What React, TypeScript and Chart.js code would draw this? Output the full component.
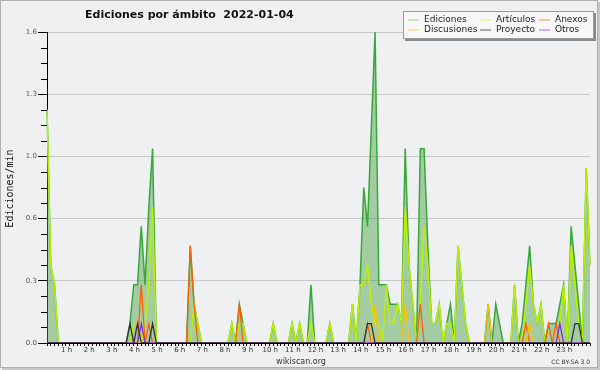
import React, { useEffect, useRef } from 'react';
import { Chart, registerables } from 'chart.js';

Chart.register(...registerables);

const TITLE = 'Ediciones por ámbito  2022-01-04';
const Y_TITLE = 'Ediciones/min';
const FOOTER = 'wikiscan.org';
const LICENSE = 'CC BY-SA 3.0';

// hour tick labels (one every 6 ten-minute slots)
const HOUR_LABELS = ['', '1 h', '2 h', '3 h', '4 h', '5 h', '6 h', '7 h', '8 h', '9 h', '10 h', '11 h', '12 h',
  '13 h', '14 h', '15 h', '16 h', '17 h', '18 h', '19 h', '20 h', '21 h', '22 h', '23 h', ''];
// y axis: minor step 0.08, label every 4th tick
const Y_LABELS = ['0.0', '0.3', '0.6', '1.0', '1.3', '1.6'];
const Y_MAX = 1.6;
const Y_STEP = 0.08;

// ten-minute slots 00:00 .. 24:00
const SLOTS: string[] = [];
for (let h = 0; h <= 24; h++) {
  for (let m = 0; m < 60; m += 10) {
    if (h === 24 && m > 0) break;
    SLOTS.push(`${String(h).padStart(2, '0')}:${String(m).padStart(2, '0')}`);
  }
}

// edits per minute, 10-minute slots
const EDICIONES = [
  1.2, 0.4, 0.3, 0, 0, 0, 0, 0, 0, 0, 0, 0,
  0, 0, 0, 0, 0, 0, 0, 0, 0, 0, 0.1, 0.3,
  0.3, 0.6, 0.3, 0.7, 1.0, 0, 0, 0, 0, 0, 0, 0,
  0, 0, 0.5, 0.2, 0.1, 0, 0, 0, 0, 0, 0, 0,
  0, 0.1, 0, 0.2, 0.1, 0, 0, 0, 0, 0, 0, 0,
  0.1, 0, 0, 0, 0, 0.1, 0, 0.1, 0, 0, 0.3, 0,
  0, 0, 0, 0.1, 0, 0, 0, 0, 0, 0.2, 0, 0.3,
  0.8, 0.6, 1.1, 1.6, 0.3, 0.3, 0.3, 0.2, 0.2, 0.2, 0.1, 1.0,
  0.4, 0.2, 0, 1.0, 1.0, 0.5, 0.1, 0.1, 0.2, 0, 0.1, 0.2,
  0, 0.5, 0.3, 0.1, 0, 0, 0, 0, 0, 0.2, 0, 0.2,
  0.1, 0, 0, 0, 0.3, 0, 0.1, 0.3, 0.5, 0.2, 0.1, 0.2,
  0, 0.1, 0.1, 0.1, 0.2, 0.3, 0, 0.6, 0.4, 0.2, 0, 0.9,
  0.4,
];
const ARTICULOS = [
  1.2, 0.4, 0.3, 0, 0, 0, 0, 0, 0, 0, 0, 0,
  0, 0, 0, 0, 0, 0, 0, 0, 0, 0, 0, 0.1,
  0.1, 0, 0.1, 0.3, 0.7, 0, 0, 0, 0, 0, 0, 0,
  0, 0, 0, 0.2, 0.1, 0, 0, 0, 0, 0, 0, 0,
  0, 0.1, 0, 0.1, 0.1, 0, 0, 0, 0, 0, 0, 0,
  0.1, 0, 0, 0, 0, 0.1, 0, 0.1, 0, 0, 0.1, 0,
  0, 0, 0, 0.1, 0, 0, 0, 0, 0, 0.2, 0, 0.3,
  0.3, 0.4, 0.2, 0.1, 0.1, 0, 0.3, 0.1, 0.1, 0.2, 0.1, 0.7,
  0.4, 0.2, 0, 0.2, 0.6, 0.4, 0.1, 0.1, 0.2, 0, 0.1, 0.1,
  0, 0.5, 0.3, 0.1, 0, 0, 0, 0, 0, 0, 0, 0,
  0, 0, 0, 0, 0.3, 0, 0, 0.2, 0.4, 0.2, 0.1, 0.2,
  0, 0, 0, 0, 0.1, 0.3, 0, 0.5, 0.3, 0.1, 0, 0.9,
  0.4,
];
const ANEXOS = [
  0, 0, 0, 0, 0, 0, 0, 0, 0, 0, 0, 0,
  0, 0, 0, 0, 0, 0, 0, 0, 0, 0, 0, 0,
  0, 0.3, 0, 0.1, 0, 0, 0, 0, 0, 0, 0, 0,
  0, 0, 0.5, 0.2, 0, 0, 0, 0, 0, 0, 0, 0,
  0, 0, 0, 0.2, 0, 0, 0, 0, 0, 0, 0, 0,
  0, 0, 0, 0, 0, 0, 0, 0, 0, 0, 0, 0,
  0, 0, 0, 0, 0, 0, 0, 0, 0, 0, 0, 0,
  0, 0.1, 0, 0, 0, 0, 0, 0, 0, 0, 0, 0,
  0, 0, 0, 0.2, 0, 0, 0, 0, 0, 0, 0, 0,
  0, 0, 0, 0, 0, 0, 0, 0, 0, 0, 0, 0,
  0, 0, 0, 0, 0, 0, 0, 0.1, 0, 0, 0, 0,
  0, 0.1, 0, 0.1, 0, 0, 0, 0, 0, 0, 0, 0,
  0,
];
const DISCUSIONES = [
  0, 0, 0, 0, 0, 0, 0, 0, 0, 0, 0, 0,
  0, 0, 0, 0, 0, 0, 0, 0, 0, 0, 0, 0,
  0, 0, 0, 0, 0, 0, 0, 0, 0, 0, 0, 0,
  0, 0, 0, 0, 0, 0, 0, 0, 0, 0, 0, 0,
  0, 0, 0, 0, 0, 0, 0, 0, 0, 0, 0, 0,
  0, 0, 0, 0, 0, 0, 0, 0, 0, 0, 0, 0,
  0, 0, 0, 0, 0, 0, 0, 0, 0, 0, 0, 0,
  0, 0, 0, 0.2, 0, 0, 0, 0, 0, 0, 0, 0.2,
  0, 0, 0, 0, 0, 0, 0, 0, 0, 0, 0, 0,
  0, 0, 0, 0, 0, 0, 0, 0, 0, 0.2, 0, 0,
  0, 0, 0, 0, 0, 0, 0, 0, 0.1, 0, 0, 0,
  0, 0, 0, 0, 0, 0, 0, 0, 0, 0, 0, 0,
  0,
];
const PROYECTO = [
  0, 0, 0, 0, 0, 0, 0, 0, 0, 0, 0, 0,
  0, 0, 0, 0, 0, 0, 0, 0, 0, 0, 0.1, 0,
  0.1, 0, 0, 0, 0.1, 0, 0, 0, 0, 0, 0, 0,
  0, 0, 0, 0, 0, 0, 0, 0, 0, 0, 0, 0,
  0, 0, 0, 0, 0, 0, 0, 0, 0, 0, 0, 0,
  0, 0, 0, 0, 0, 0, 0, 0, 0, 0, 0, 0,
  0, 0, 0, 0, 0, 0, 0, 0, 0, 0, 0, 0,
  0, 0.1, 0.1, 0, 0, 0, 0, 0, 0, 0, 0, 0,
  0, 0, 0, 0, 0, 0, 0, 0, 0, 0, 0, 0,
  0, 0, 0, 0, 0, 0, 0, 0, 0, 0, 0, 0,
  0, 0, 0, 0, 0, 0, 0, 0, 0, 0, 0, 0,
  0, 0, 0, 0, 0, 0, 0, 0, 0.1, 0.1, 0, 0,
  0,
];
const OTROS = [
  0, 0, 0, 0, 0, 0, 0, 0, 0, 0, 0, 0,
  0, 0, 0, 0, 0, 0, 0, 0, 0, 0, 0, 0,
  0, 0.1, 0, 0, 0, 0, 0, 0, 0, 0, 0, 0,
  0, 0, 0, 0, 0, 0, 0, 0, 0, 0, 0, 0,
  0, 0, 0, 0, 0, 0, 0, 0, 0, 0, 0, 0,
  0, 0, 0, 0, 0, 0, 0, 0, 0, 0, 0, 0,
  0, 0, 0, 0, 0, 0, 0, 0, 0, 0, 0, 0,
  0, 0, 0, 0, 0, 0, 0, 0, 0, 0, 0, 0,
  0, 0, 0, 0, 0, 0, 0, 0, 0, 0, 0, 0,
  0, 0, 0, 0, 0, 0, 0, 0, 0, 0, 0, 0,
  0, 0, 0, 0, 0, 0, 0, 0, 0, 0, 0, 0,
  0, 0, 0, 0, 0.1, 0, 0, 0, 0, 0, 0, 0,
  0,
];

const SERIES_NAMES = ['Ediciones', 'Artículos', 'Anexos', 'Discusiones', 'Proyecto', 'Otros'];
const SERIES_DATA = [EDICIONES, ARTICULOS, ANEXOS, DISCUSIONES, PROYECTO, OTROS];
const SERIES_COLORS = ['#38a838', '#bdf000', '#ff6000', '#ffc000', '#303030', '#8a2be2'];
const LEGEND_COLORS = ['#90d090', '#d8f070', '#f08a5a', '#f8d860', '#606060', '#a868f0'];
const SERIES_WIDTHS = [1.5, 1.5, 1.3, 1.3, 1.3, 1.3];
const SERIES_ORDER = [6, 5, 4, 3, 1, 2];

const decor = {
  id: 'decor',
  beforeDraw(chart: any) {
    const { ctx, chartArea: a } = chart;
    ctx.save();
    ctx.fillStyle = '#f0f0f0';
    ctx.fillRect(0, 0, chart.width, chart.height);
    ctx.fillStyle = '#eef0f2';
    ctx.fillRect(a.left, a.top, a.right - a.left, a.bottom - a.top);
    ctx.restore();
  },
  afterDraw(chart: any) {
    const { ctx, chartArea: a } = chart;
    const ys = chart.scales.y;
    ctx.save();
    // minor y ticks
    ctx.strokeStyle = '#000';
    ctx.lineWidth = 1;
    ys.ticks.forEach((t: any, i: number) => {
      if (i % 4 === 0) return;
      const py = Math.round(ys.getPixelForValue(t.value)) + 0.5;
      ctx.beginPath();
      ctx.moveTo(a.left - 6, py);
      ctx.lineTo(a.left, py);
      ctx.stroke();
    });
    // title
    ctx.fillStyle = '#111';
    ctx.font = 'bold 11px "DejaVu Sans"';
    ctx.textAlign = 'left';
    ctx.textBaseline = 'alphabetic';
    ctx.fillText(TITLE, 85, 18);
    // y title
    ctx.save();
    ctx.translate(13, (a.top + a.bottom) / 2 + 1);
    ctx.rotate(-Math.PI / 2);
    ctx.font = '10px "DejaVu Sans Mono"';
    ctx.textAlign = 'center';
    ctx.fillStyle = '#111';
    ctx.fillText(Y_TITLE, 0, 0);
    ctx.restore();
    // footer
    ctx.font = '8px "DejaVu Sans"';
    ctx.fillStyle = '#333';
    ctx.textAlign = 'center';
    ctx.fillText(FOOTER, 301, 364);
    ctx.font = '6px "DejaVu Sans"';
    ctx.textAlign = 'right';
    ctx.fillText(LICENSE, 590, 364);
    // legend box
    const LX = 403, LY = 11, LW = 191, LH = 28;
    ctx.fillStyle = '#8a8a8a';
    ctx.fillRect(LX + 2, LY + 2, LW, LH);
    ctx.fillStyle = '#f7f7f7';
    ctx.fillRect(LX, LY, LW, LH);
    ctx.strokeStyle = '#9a9a9a';
    ctx.strokeRect(LX + 0.5, LY + 0.5, LW - 1, LH - 1);
    const cols = [408, 480, 539];
    const rows = [19.5, 29.5];
    ctx.font = '9px "DejaVu Sans"';
    ctx.textAlign = 'left';
    ctx.textBaseline = 'middle';
    chart.data.datasets.forEach((ds: any, i: number) => {
      const cx = cols[i % 3];
      const cy = rows[Math.floor(i / 3)];
      ctx.strokeStyle = LEGEND_COLORS[i];
      ctx.lineWidth = 1;
      ctx.beginPath();
      ctx.moveTo(cx, cy + 0.5);
      ctx.lineTo(cx + 11, cy + 0.5);
      ctx.stroke();
      ctx.fillStyle = '#222';
      ctx.fillText(ds.label, cx + 16, cy);
    });
    // outer frame
    ctx.strokeStyle = '#b0b0b0';
    ctx.lineWidth = 1;
    ctx.strokeRect(0.5, 0.5, 597, 367);
    ctx.fillStyle = '#c8c8c8';
    ctx.fillRect(598, 2, 2, 368);
    ctx.fillRect(2, 368, 598, 2);
    ctx.restore();
  },
};

export default function App() {
  const ref = useRef<HTMLCanvasElement | null>(null);
  useEffect(() => {
    if (!ref.current) return;
    Chart.defaults.font.family = '"DejaVu Sans"';
    const datasets = SERIES_NAMES.map((name, i) => ({
      label: name,
      data: SERIES_DATA[i],
      borderColor: SERIES_COLORS[i],
      backgroundColor: i === 0 ? 'rgba(70,160,70,0.45)' : SERIES_COLORS[i],
      borderWidth: SERIES_WIDTHS[i],
      fill: i === 0 ? 'origin' : false,
      pointRadius: 0,
      tension: 0,
      order: SERIES_ORDER[i],
    }));
    const chart = new Chart(ref.current, {
      type: 'line',
      data: { labels: SLOTS, datasets },
      options: {
        animation: false,
        responsive: false,
        maintainAspectRatio: false,
        layout: { padding: { left: 0, right: 10, top: 32, bottom: 0 } },
        plugins: { legend: { display: false }, title: { display: false }, tooltip: { enabled: false } },
        scales: {
          x: {
            type: 'category',
            offset: false,
            z: 1,
            afterFit: (s: any) => { s.height = 27; },
            grid: { drawOnChartArea: false, tickLength: 3, tickColor: '#000', offset: false },
            border: { display: true, color: '#000', width: 1 },
            ticks: {
              autoSkip: false,
              maxRotation: 0,
              minRotation: 0,
              padding: 0,
              labelOffset: -3,
              color: '#333',
              font: { size: 7 },
              callback: (_v: any, i: number) => (i % 6 === 0 ? HOUR_LABELS[i / 6] : ''),
            },
          },
          y: {
            min: 0,
            max: Y_MAX,
            afterFit: (s: any) => { s.width = 47; },
            grid: {
              tickLength: 9,
              color: (c: any) => (c.index % 4 === 0 ? '#c8c8c8' : 'rgba(0,0,0,0)'),
              tickColor: (c: any) => (c.index % 4 === 0 ? '#000' : 'rgba(0,0,0,0)'),
            },
            border: { display: true, color: '#000', width: 1 },
            ticks: {
              stepSize: Y_STEP,
              autoSkip: false,
              padding: 1,
              color: '#555',
              font: { size: 7 },
              callback: (_v: any, i: number) => (i % 4 === 0 ? Y_LABELS[i / 4] : ''),
            },
          },
        },
      },
      plugins: [decor],
    });
    return () => chart.destroy();
  }, []);
  return (
    <div style={{ position: 'fixed', left: 0, top: 0, width: 600, height: 370 }}>
      <canvas ref={ref} width={600} height={370} />
    </div>
  );
}
